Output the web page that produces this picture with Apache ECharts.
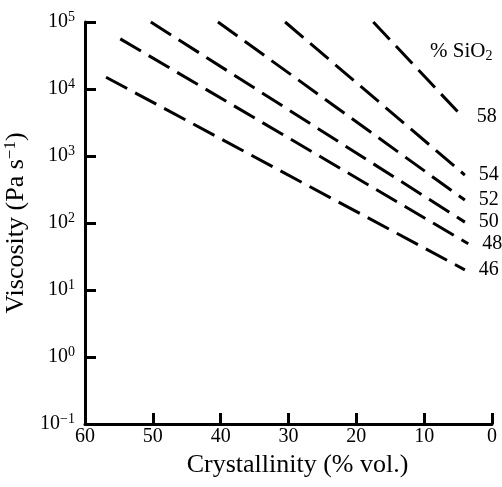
<!DOCTYPE html>
<html lang="en">
<head>
    <meta charset="UTF-8">
    <title>viscosity-crystallinity</title>
    <style>
        html, body { margin: 0; padding: 0; background: #fff; }
        #chart { width: 502px; height: 487px; }
    </style>
</head>
<body>
    <div id="chart"></div>
</body>
<script src="https://cdn.jsdelivr.net/npm/echarts@6/dist/echarts.min.js"></script>
<script>
    // % SiO2 of each curve
    const silica = ['46', '48', '50', '52', '54', '58']
    // crystallinity (% vol.) at start / end of each dashed line
    const cryst46 = [56.9, 4.0]
    const cryst48 = [54.8, 3.5]
    const cryst50 = [50.3, 4.0]
    const cryst52 = [40.4, 4.0]
    const cryst54 = [30.5, 4.0]
    const cryst58 = [17.5, 4.3]
    // viscosity (Pa s-1) at the same points
    const visc46 = [15000, 20]
    const visc48 = [56000, 49]
    const visc50 = [100000, 103]
    const visc52 = [100000, 220]
    const visc54 = [100000, 520]
    const visc58 = [100000, 3800]
    const xTicks = [60, 50, 40, 30, 20, 10, 0]

    const crystAll = [cryst46, cryst48, cryst50, cryst52, cryst54, cryst58]
    const viscAll = [visc46, visc48, visc50, visc52, visc54, visc58]

    const serif = "'Liberation Serif', 'DejaVu Serif', serif"

    const chart = echarts.init(document.getElementById('chart'))

    const series = silica.map((name, i) => ({
        name,
        type: 'line',
        showSymbol: false,
        symbol: 'none',
        clip: false,
        data: crystAll[i].map((c, j) => [c, viscAll[i][j]]),
        lineStyle: { color: '#000', width: 3, type: [24, 9], cap: 'butt' },
        endLabel: {
            show: true,
            formatter: '{a}',
            align: 'left',
            distance: -14,
            color: '#000',
            fontFamily: serif,
            fontSize: 20
        },
        emphasis: { disabled: true }
    }))

    chart.setOption({
        animation: false,
        grid: { left: 85, right: 10, top: 22, bottom: 63, outerBoundsMode: 'none', containLabel: false },
        title: {
            text: '% SiO{sub|2}',
            left: 425,
            top: 35,
            textStyle: {
                color: '#000',
                fontFamily: serif,
                fontSize: 21,
                fontWeight: 'normal',
                rich: {
                    sub: { fontSize: 14, fontFamily: serif, color: '#000', verticalAlign: 'bottom', padding: [9, 0, 0, 0] }
                }
            }
        },
        xAxis: {
            type: 'value',
            inverse: true,
            min: 0,
            max: 60,
            interval: 10,
            name: 'Crystallinity (% vol.)',
            nameLocation: 'middle',
            nameGap: 21,
            nameTextStyle: { color: '#000', fontFamily: serif, fontSize: 26, padding: [0, 0, 0, 18] },
            axisLine: { onZero: false, lineStyle: { color: '#000', width: 3 } },
            axisTick: { inside: true, length: 11, lineStyle: { color: '#000', width: 3 } },
            axisLabel: {
                color: '#000', fontFamily: serif, fontSize: 20, margin: 3,
                formatter: v => xTicks.includes(v) ? String(v) : ''
            },
            splitLine: { show: false }
        },
        yAxis: {
            type: 'log',
            logBase: 10,
            min: 0.1,
            max: 100000,
            interval: 1,
            position: 'left',
            name: 'Viscosity (Pa s{sup|\u22121})',
            nameLocation: 'middle',
            nameGap: 49,
            nameTextStyle: {
                color: '#000', fontFamily: serif, fontSize: 26,
                rich: {
                    sup: { fontSize: 17, fontFamily: serif, color: '#000', verticalAlign: 'top', padding: [0, 0, 11, 0] }
                }
            },
            axisLine: { show: true, onZero: false, lineStyle: { color: '#000', width: 3 } },
            axisTick: { show: true, inside: true, length: 11, lineStyle: { color: '#000', width: 3 } },
            minorTick: { show: false },
            axisLabel: {
                color: '#000', fontFamily: serif, fontSize: 20, margin: 10,
                formatter: v => {
                    const e = Math.round(Math.log10(v))
                    return '10{sup|' + (e < 0 ? '\u2212' + (-e) : e) + '}'
                },
                rich: {
                    sup: { fontSize: 14, fontFamily: serif, color: '#000', verticalAlign: 'top', padding: [0, 0, 9, 0] }
                }
            },
            splitLine: { show: false }
        },
        series
    })
</script>
</html>
